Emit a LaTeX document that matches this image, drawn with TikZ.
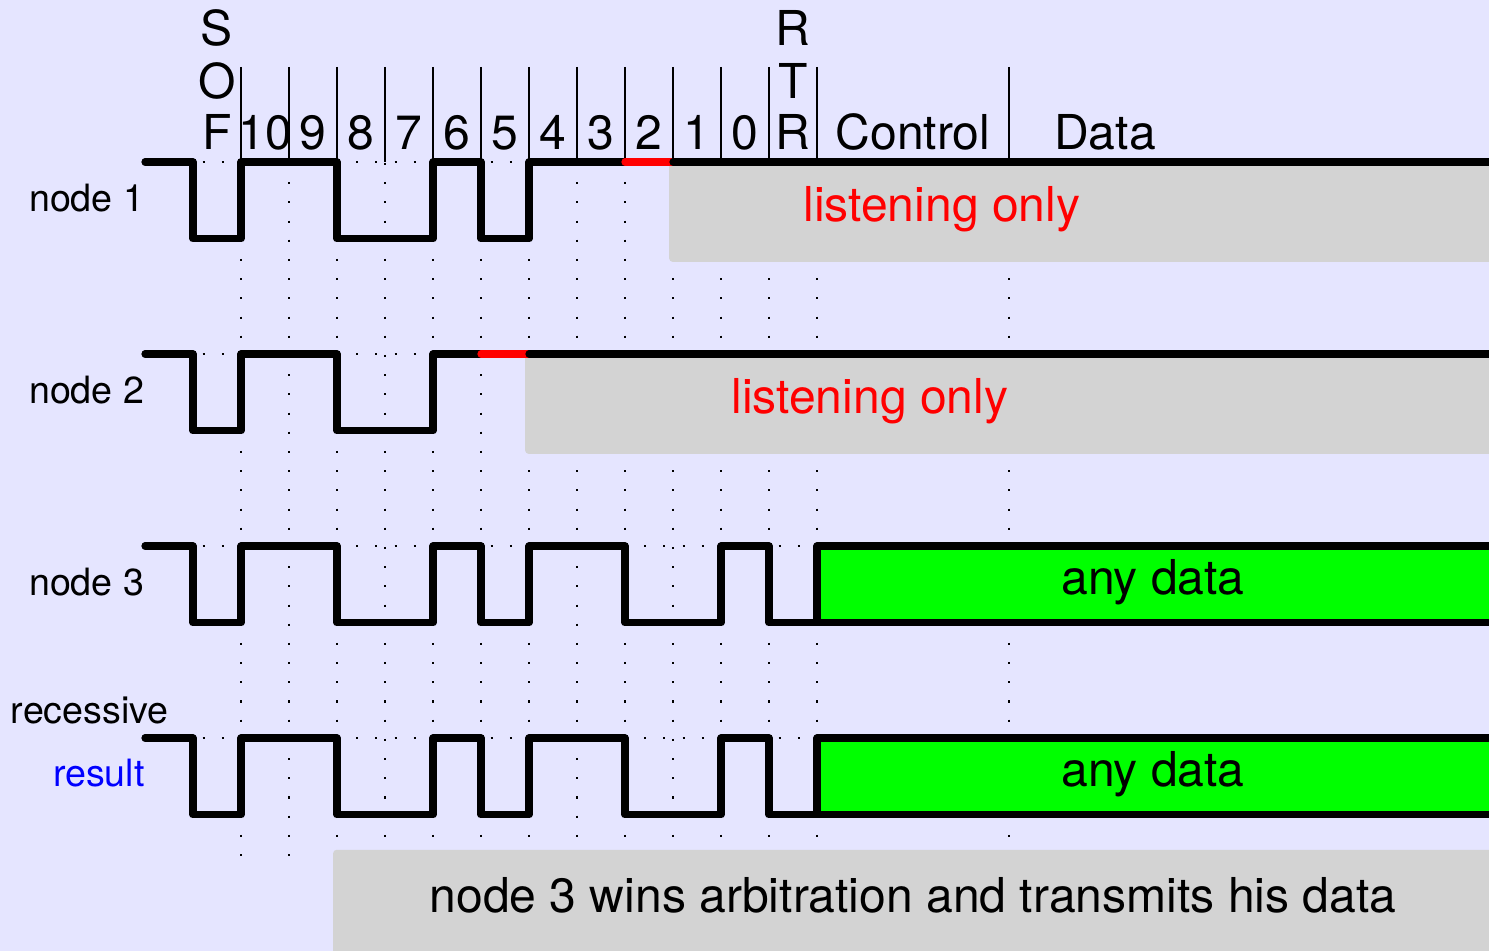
\documentclass[tikz,border=0pt]{standalone}
\usepackage{fontspec}
\setmainfont{TeX Gyre Heros}
\definecolor{bglav}{RGB}{229,229,255}
\definecolor{boxgray}{RGB}{211,211,211}
\definecolor{datagreen}{RGB}{0,255,0}
\tikzset{
signal/.style={line width=4.3pt, line cap=round, line join=round},
lostbit/.style={signal, draw=red},
griddots/.style={line width=1.2pt, dash pattern=on 1.2pt off 10.18pt},
bittick/.style={line width=0.9pt},
bitlabel/.style={anchor=base, inner sep=0pt, font=\fontsize{28.5}{30}\selectfont},
rowlabel/.style={anchor=base east, inner sep=0pt, font=\fontsize{22.3}{24}\selectfont},
boxtext/.style={anchor=base, inner sep=0pt, font=\fontsize{28.5}{30}\selectfont}}

\begin{document}
\begin{tikzpicture}[x=1cm, y=1cm]

                \useasboundingbox (-4.021,3.375) rectangle (27.0,-16.4375);
                \fill[bglav] (-4.021,3.375) rectangle (27.0,-16.4375);
                \clip (-4.021,3.375) rectangle (27.0,-16.4375);

                \foreach \x in {1,...,13,17}
                    \draw[griddots] (\x,1.98) -- (\x,-14.45);
                \foreach \y in {0,-4,-8,-12}
                    \draw[griddots] (-1,\y) -- (28,\y);
                \foreach \x in {1,...,13,17}
                    \draw[bittick] (\x,0) -- (\x,1.98);

                \node[bitlabel] (sofS) at (0.5,2.417) {S};
                \node[bitlabel] (sofO) at (0.5,1.333) {O};
                \node[bitlabel] (sofF) at (0.5,0.25) {F};
                \foreach \lbl [count=\i] in {10,9,...,0}
                    \node[bitlabel] (bit\lbl) at (\i+0.5,0.25) {\lbl};
                \node[bitlabel] (rtrR) at (12.5,2.417) {R};
                \node[bitlabel] (rtrT) at (12.5,1.333) {T};
                \node[bitlabel] (rtrRb) at (12.5,0.25) {R};
                \node[bitlabel] (ctrl) at (15,0.25) {Control};
                \node[bitlabel] (data) at (19,0.25) {Data};

                \fill[boxgray, rounded corners=2pt] (9.92,0) rectangle (28,-2.08);
                \fill[boxgray, rounded corners=2pt] (6.92,-4) rectangle (28,-6.08);
                \fill[boxgray, rounded corners=2pt] (2.92,-14.33) rectangle (28,-17);

                \draw[signal] (-1,0) -- (0,0) -- (0,-1.6) -- (1,-1.6) -- (1,0) -- (3,0) -- (3,-1.6) -- (5,-1.6) -- (5,0) -- (6,0) -- (6,-1.6) -- (7,-1.6) -- (7,0) -- (9,0);
                \draw[lostbit] (9,0) -- (10,0);
                \draw[signal] (10,0) -- (28,0);

                \draw[signal] (-1,-4) -- (0,-4) -- (0,-5.6) -- (1,-5.6) -- (1,-4) -- (3,-4) -- (3,-5.6) -- (5,-5.6) -- (5,-4) -- (6,-4);
                \draw[lostbit] (6,-4) -- (7,-4);
                \draw[signal] (7,-4) -- (28,-4);

                \foreach \y/\nm in {-8/three,-12/res}{
                \begin{scope}[yshift=\y cm]
                    \fill[datagreen] (13,0) rectangle (28,-1.6);
                    \draw[signal] (-1,0) -- (0,0) -- (0,-1.6) -- (1,-1.6) -- (1,0) -- (3,0) -- (3,-1.6) -- (5,-1.6) -- (5,0) -- (6,0) -- (6,-1.6) -- (7,-1.6) -- (7,0) -- (9,0) -- (9,-1.6) -- (11,-1.6) -- (11,0) -- (12,0) -- (12,-1.6) -- (13,-1.6) -- (13,0) -- (28,0);
                    \draw[signal] (13,-1.6) -- (28,-1.6);
                    \node[boxtext] (any\nm) at (20,-1.02) {any data};
                \end{scope}}

                \node[boxtext, text=red] (listenA) at (15.6,-1.25) {listening only};
                \node[boxtext, text=red] (listenB) at (14.1,-5.25) {listening only};
                \node[boxtext] (wins) at (15,-15.625) {node 3 wins arbitration and transmits his data};

                \node[rowlabel] (nodeA) at (-1.01,-1.04) {node 1};
                \node[rowlabel] (nodeB) at (-1.01,-5.04) {node 2};
                \node[rowlabel] (nodeC) at (-1.01,-9.04) {node 3};
                \node[rowlabel] (recessive) at (-0.5,-11.69) {recessive};
                \node[rowlabel, text=blue] (result) at (-1.0,-13.02) {result};

\end{tikzpicture}
\end{document}
